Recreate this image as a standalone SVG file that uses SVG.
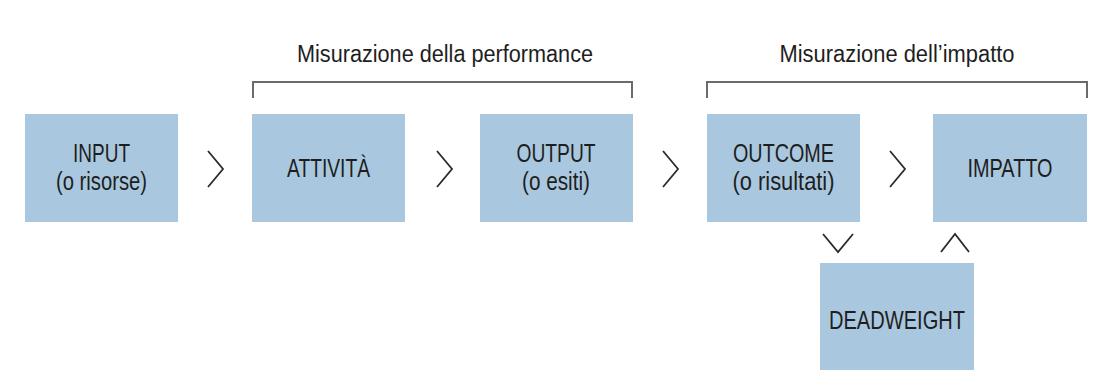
<svg xmlns="http://www.w3.org/2000/svg" width="1094" height="388" viewBox="0 0 1094 388">
<style>
.box{fill:#a9c8df}
.t{font-family:"Liberation Sans",Arial,sans-serif;font-size:25px;fill:#1e1e1e;text-anchor:middle}
.h{font-size:23px}
.chev{fill:none;stroke:#2a2a2a;stroke-width:1.8;stroke-linejoin:miter}
.br{fill:none;stroke:#6b6b6b;stroke-width:2}
</style>
<rect width="1094" height="388" fill="#ffffff"/>
<g id="title-performance">
<text class="t h" x="445" y="62" textLength="296" lengthAdjust="spacingAndGlyphs">Misurazione della performance</text>
<path class="br" d="M253,98 V82 H632 V98"/>
</g>
<g id="title-impatto">
<text class="t h" x="897" y="62" textLength="235" lengthAdjust="spacingAndGlyphs">Misurazione dell’impatto</text>
<path class="br" d="M707,98 V82 H1087 V98"/>
</g>
<g id="input">
<rect class="box" x="25" y="114" width="153" height="108"/>
<text class="t" x="101.5" y="162" textLength="57" lengthAdjust="spacingAndGlyphs">INPUT</text>
<text class="t" x="101.5" y="190" textLength="91" lengthAdjust="spacingAndGlyphs">(o risorse)</text>
</g>
<g id="attivita">
<rect class="box" x="252" y="114" width="153" height="108"/>
<text class="t" x="328.5" y="177" textLength="83" lengthAdjust="spacingAndGlyphs">ATTIVITÀ</text>
</g>
<g id="output">
<rect class="box" x="480" y="114" width="153" height="108"/>
<text class="t" x="556" y="162" textLength="79" lengthAdjust="spacingAndGlyphs">OUTPUT</text>
<text class="t" x="556" y="190" textLength="68" lengthAdjust="spacingAndGlyphs">(o esiti)</text>
</g>
<g id="outcome">
<rect class="box" x="707" y="114" width="153" height="108"/>
<text class="t" x="783.5" y="162" textLength="101" lengthAdjust="spacingAndGlyphs">OUTCOME</text>
<text class="t" x="783.5" y="190" textLength="102" lengthAdjust="spacingAndGlyphs">(o risultati)</text>
</g>
<g id="impatto">
<rect class="box" x="933" y="114" width="154" height="108"/>
<text class="t" x="1010" y="177" textLength="85" lengthAdjust="spacingAndGlyphs">IMPATTO</text>
</g>
<g id="deadweight">
<rect class="box" x="820" y="263" width="154" height="107"/>
<text class="t" x="897" y="329" textLength="136" lengthAdjust="spacingAndGlyphs">DEADWEIGHT</text>
</g>
<g id="connectors">
<polyline class="chev" points="208,151 223,169 208,187"/>
<polyline class="chev" points="437,151 452,169 437,187"/>
<polyline class="chev" points="663,151 678,169 663,187"/>
<polyline class="chev" points="890,151 905,169 890,187"/>
<polyline class="chev" points="823,234 838,252 853,234"/>
<polyline class="chev" points="941,252 955,234 969,252"/>
</g>
</svg>
